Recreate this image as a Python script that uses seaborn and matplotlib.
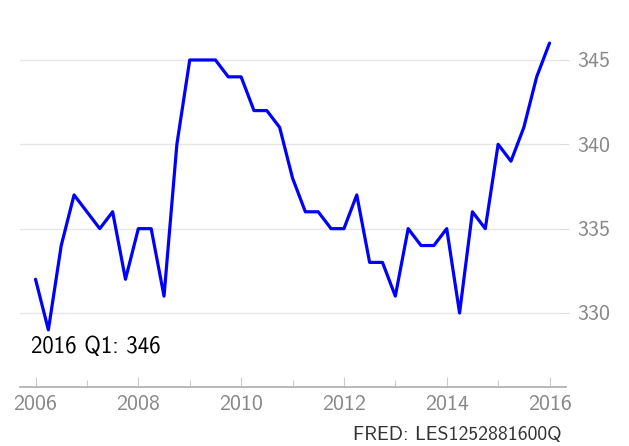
import numpy as np
import pandas as pd
import matplotlib.pyplot as plt
import seaborn as sns
from matplotlib.ticker import MultipleLocator

# quarterly series, 2006 Q1 .. 2016 Q1
start = '2006-01-01'
values = [332, 329, 334, 337,
          336, 335, 336, 332,
          335, 335, 331, 340,
          345, 345, 345, 344,
          344, 342, 342, 341,
          338, 336, 336, 335,
          335, 337, 333, 333,
          331, 335, 334, 334,
          335, 330, 336, 335,
          340, 339, 341, 344,
          346]
series_id = 'LES1252881600Q'
last_label = '2016 Q1: 346'
ytick_vals = [330, 335, 340, 345]

dates = pd.date_range(start, periods=len(values), freq='QS')
df = pd.DataFrame({'year': dates.year + (dates.month - 1) / 12, 'value': values})

sns.set_style('white')
plt.rcParams['font.family'] = ['cmss10', 'DejaVu Sans']
plt.rcParams['axes.unicode_minus'] = False

fig = plt.figure(figsize=(6.29, 4.46), dpi=100)
ax = fig.add_axes([20 / 629, 59 / 446, 538 / 629, 367 / 446])

sns.lineplot(data=df, x='year', y='value', ax=ax, color='#0000ff', linewidth=2.3)

ax.set_xlim(2005.698, 2016.165)
ax.set_ylim(325.613, 347.37)
ax.set_xlabel('')
ax.set_ylabel('')

ax.xaxis.set_major_locator(MultipleLocator(2))
ax.xaxis.set_minor_locator(MultipleLocator(1))
ax.set_yticks(ytick_vals)
ax.yaxis.tick_right()
ax.grid(axis='y', color='#e6e6e6', linewidth=1)
ax.grid(axis='x', visible=False)

for s in ['top', 'left', 'right']:
    ax.spines[s].set_visible(False)
ax.spines['bottom'].set_color('#b3b3b3')
ax.spines['bottom'].set_linewidth(1.3)
ax.spines['bottom'].set_bounds(2005.698, 2016.32)

ax.tick_params(axis='x', which='major', direction='in', length=7, width=0.8,
               color='#cccccc', labelcolor='#888888', labelsize=15.8, pad=6,
               bottom=True, top=False)
ax.tick_params(axis='x', which='minor', direction='in', length=5, width=0.8,
               color='#cccccc', bottom=True, top=False)
ax.tick_params(axis='y', which='major', direction='out', length=8, width=0.8,
               color='#dddddd', labelcolor='#888888', labelsize=15.8, pad=6,
               left=False, right=True)

fig.text(31 / 629, 1 - 353 / 446, last_label, fontsize=16.4, color='black',
         ha='left', va='baseline')
fig.text(562 / 629, 1 - 440 / 446, 'FRED: ' + series_id, fontsize=14.2,
         color='#333333', ha='right', va='baseline')

fig.savefig('out.png', dpi=100)
